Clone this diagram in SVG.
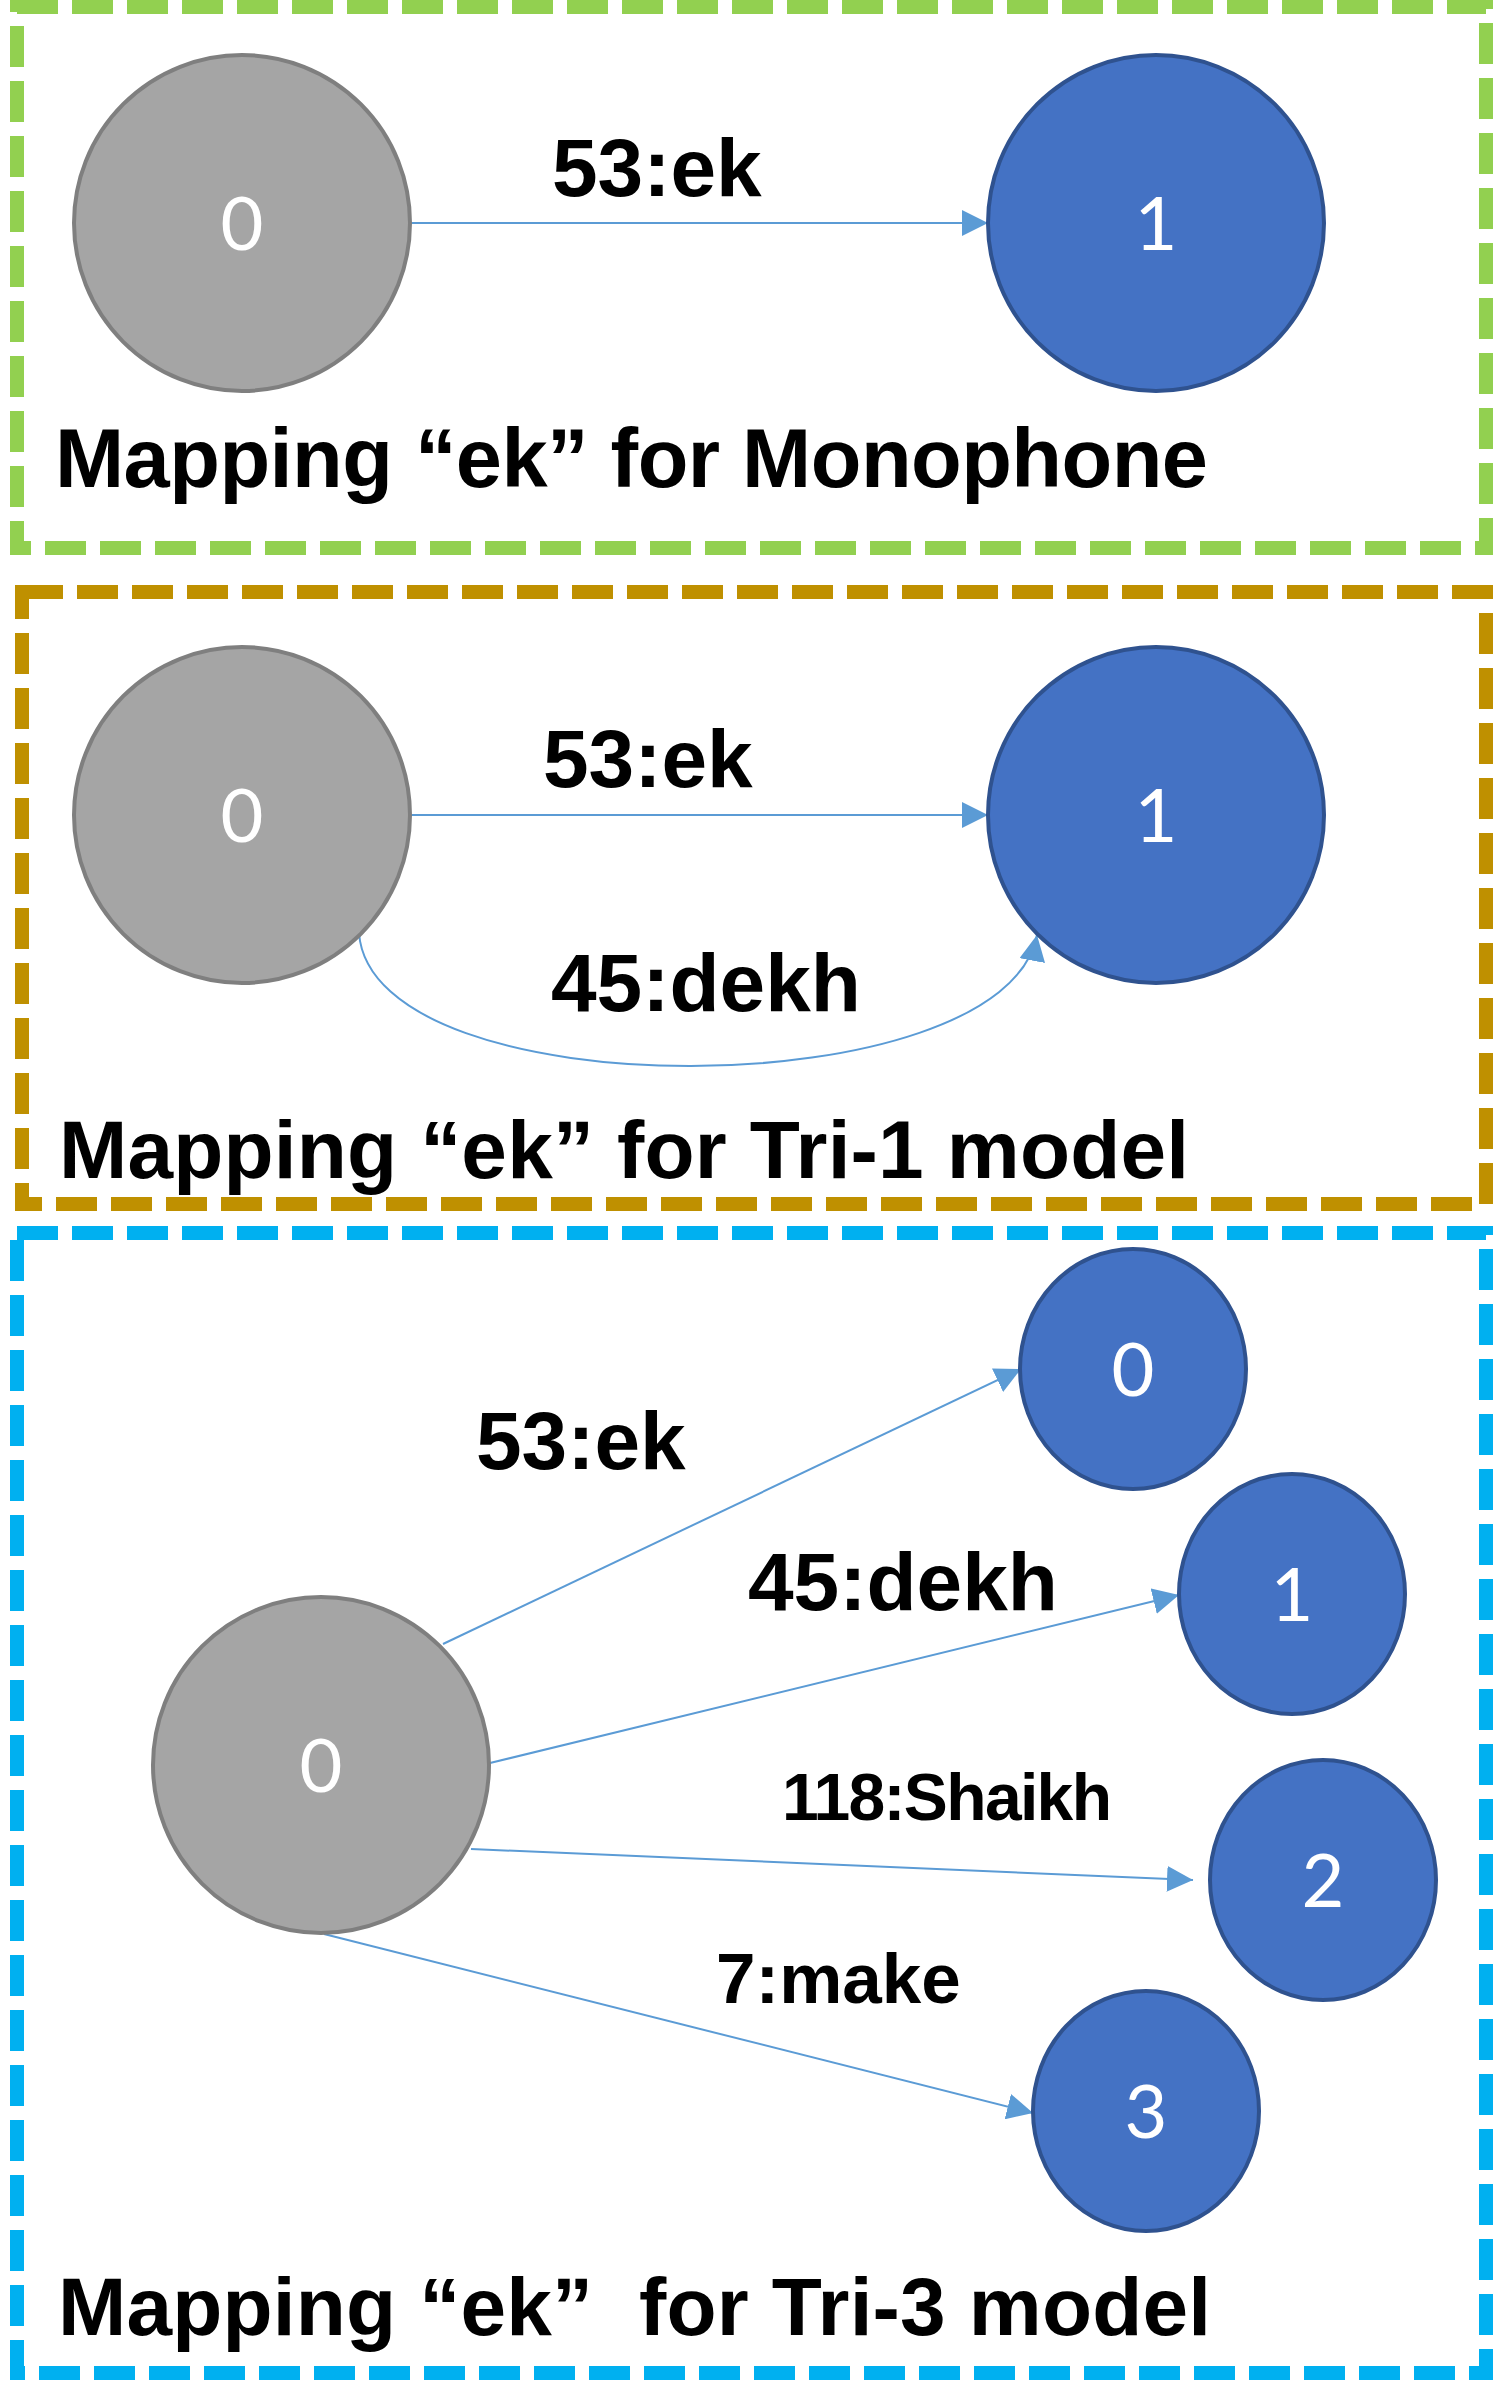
<svg xmlns="http://www.w3.org/2000/svg" width="1493" height="2405" viewBox="0 0 1493 2405">
<defs>
<marker id="arr" markerUnits="userSpaceOnUse" markerWidth="26" markerHeight="26" refX="26" refY="13" orient="auto" viewBox="0 0 26 26">
<path d="M0,0 L26,13 L0,26 z" fill="#5B9BD5"/>
</marker>
</defs>
<style>
.frame{fill:none;stroke-width:14;stroke-dasharray:41 14}
.g{fill:#A5A5A5;stroke:#7F7F7F;stroke-width:4}
.b{fill:#4472C4;stroke:#2F528F;stroke-width:4}
.num{font-family:Lato,"DejaVu Sans",sans-serif;font-size:74px;fill:#FFFFFF;text-anchor:middle}
.lbl{font-family:"Liberation Sans",Arial,sans-serif;font-weight:bold;fill:#000000}
.edge{fill:none;stroke:#5B9BD5;stroke-width:2;marker-end:url(#arr)}
</style>
<rect width="1493" height="2405" fill="#FFFFFF"/>

<g id="frames">
<rect class="frame" x="17" y="7" width="1469" height="541" stroke="#92D050"/>
<rect class="frame" x="22" y="592" width="1464" height="612" stroke="#BF9000"/>
<rect class="frame" x="17" y="1233" width="1469" height="1140" stroke="#00B0F0"/>
</g>

<g id="connectors">
<line class="edge" x1="410" y1="223" x2="988" y2="223"/>
<line class="edge" x1="410" y1="815" x2="988" y2="815"/>
<path class="edge" d="M359,933 C372,1112 1005,1108 1037,935"/>
<line class="edge" x1="443" y1="1644" x2="1021" y2="1369"/>
<line class="edge" x1="490" y1="1763" x2="1179" y2="1595"/>
<line class="edge" x1="471" y1="1849" x2="1193" y2="1880"/>
<line class="edge" x1="324" y1="1934" x2="1033" y2="2113"/>
</g>

<g id="labels">
<text class="lbl" x="552" y="196" font-size="82">53:ek</text>
<text class="lbl" x="55" y="487" font-size="83" textLength="1153" lengthAdjust="spacing">Mapping “ek” for Monophone</text>
<text class="lbl" x="543" y="787" font-size="82">53:ek</text>
<text class="lbl" x="551" y="1011" font-size="82">45:dekh</text>
<text class="lbl" x="59" y="1178" font-size="82" textLength="1130" lengthAdjust="spacing">Mapping “ek” for Tri-1 model</text>
<text class="lbl" x="476" y="1469" font-size="82">53:ek</text>
<text class="lbl" x="748" y="1610" font-size="82">45:dekh</text>
<text class="lbl" x="782" y="1820" font-size="66" textLength="330" lengthAdjust="spacing">118:Shaikh</text>
<text class="lbl" x="716" y="2003" font-size="71">7:make</text>
<text class="lbl" x="58" y="2335" font-size="82" textLength="1153" lengthAdjust="spacing" xml:space="preserve">Mapping “ek”  for Tri-3 model</text>
</g>

<g id="m-n0">
<circle class="g" cx="242" cy="223" r="168"/>
<text class="num" x="242" y="250">0</text>
</g>
<g id="m-n1">
<circle class="b" cx="1156" cy="223" r="168"/>
<text class="num" x="1156" y="250">1</text>
</g>

<g id="t1-n0">
<circle class="g" cx="242" cy="815" r="168"/>
<text class="num" x="242" y="842">0</text>
</g>
<g id="t1-n1">
<circle class="b" cx="1156" cy="815" r="168"/>
<text class="num" x="1156" y="842">1</text>
</g>

<g id="t3-src">
<circle class="g" cx="321" cy="1765" r="168"/>
<text class="num" x="321" y="1792">0</text>
</g>
<g id="t3-n0">
<ellipse class="b" cx="1133" cy="1369" rx="113" ry="120"/>
<text class="num" x="1133" y="1396">0</text>
</g>
<g id="t3-n1">
<ellipse class="b" cx="1292" cy="1594" rx="113" ry="120"/>
<text class="num" x="1292" y="1621">1</text>
</g>
<g id="t3-n2">
<ellipse class="b" cx="1323" cy="1880" rx="113" ry="120"/>
<text class="num" x="1323" y="1907">2</text>
</g>
<g id="t3-n3">
<ellipse class="b" cx="1146" cy="2111" rx="113" ry="120"/>
<text class="num" x="1146" y="2138">3</text>
</g>
</svg>
